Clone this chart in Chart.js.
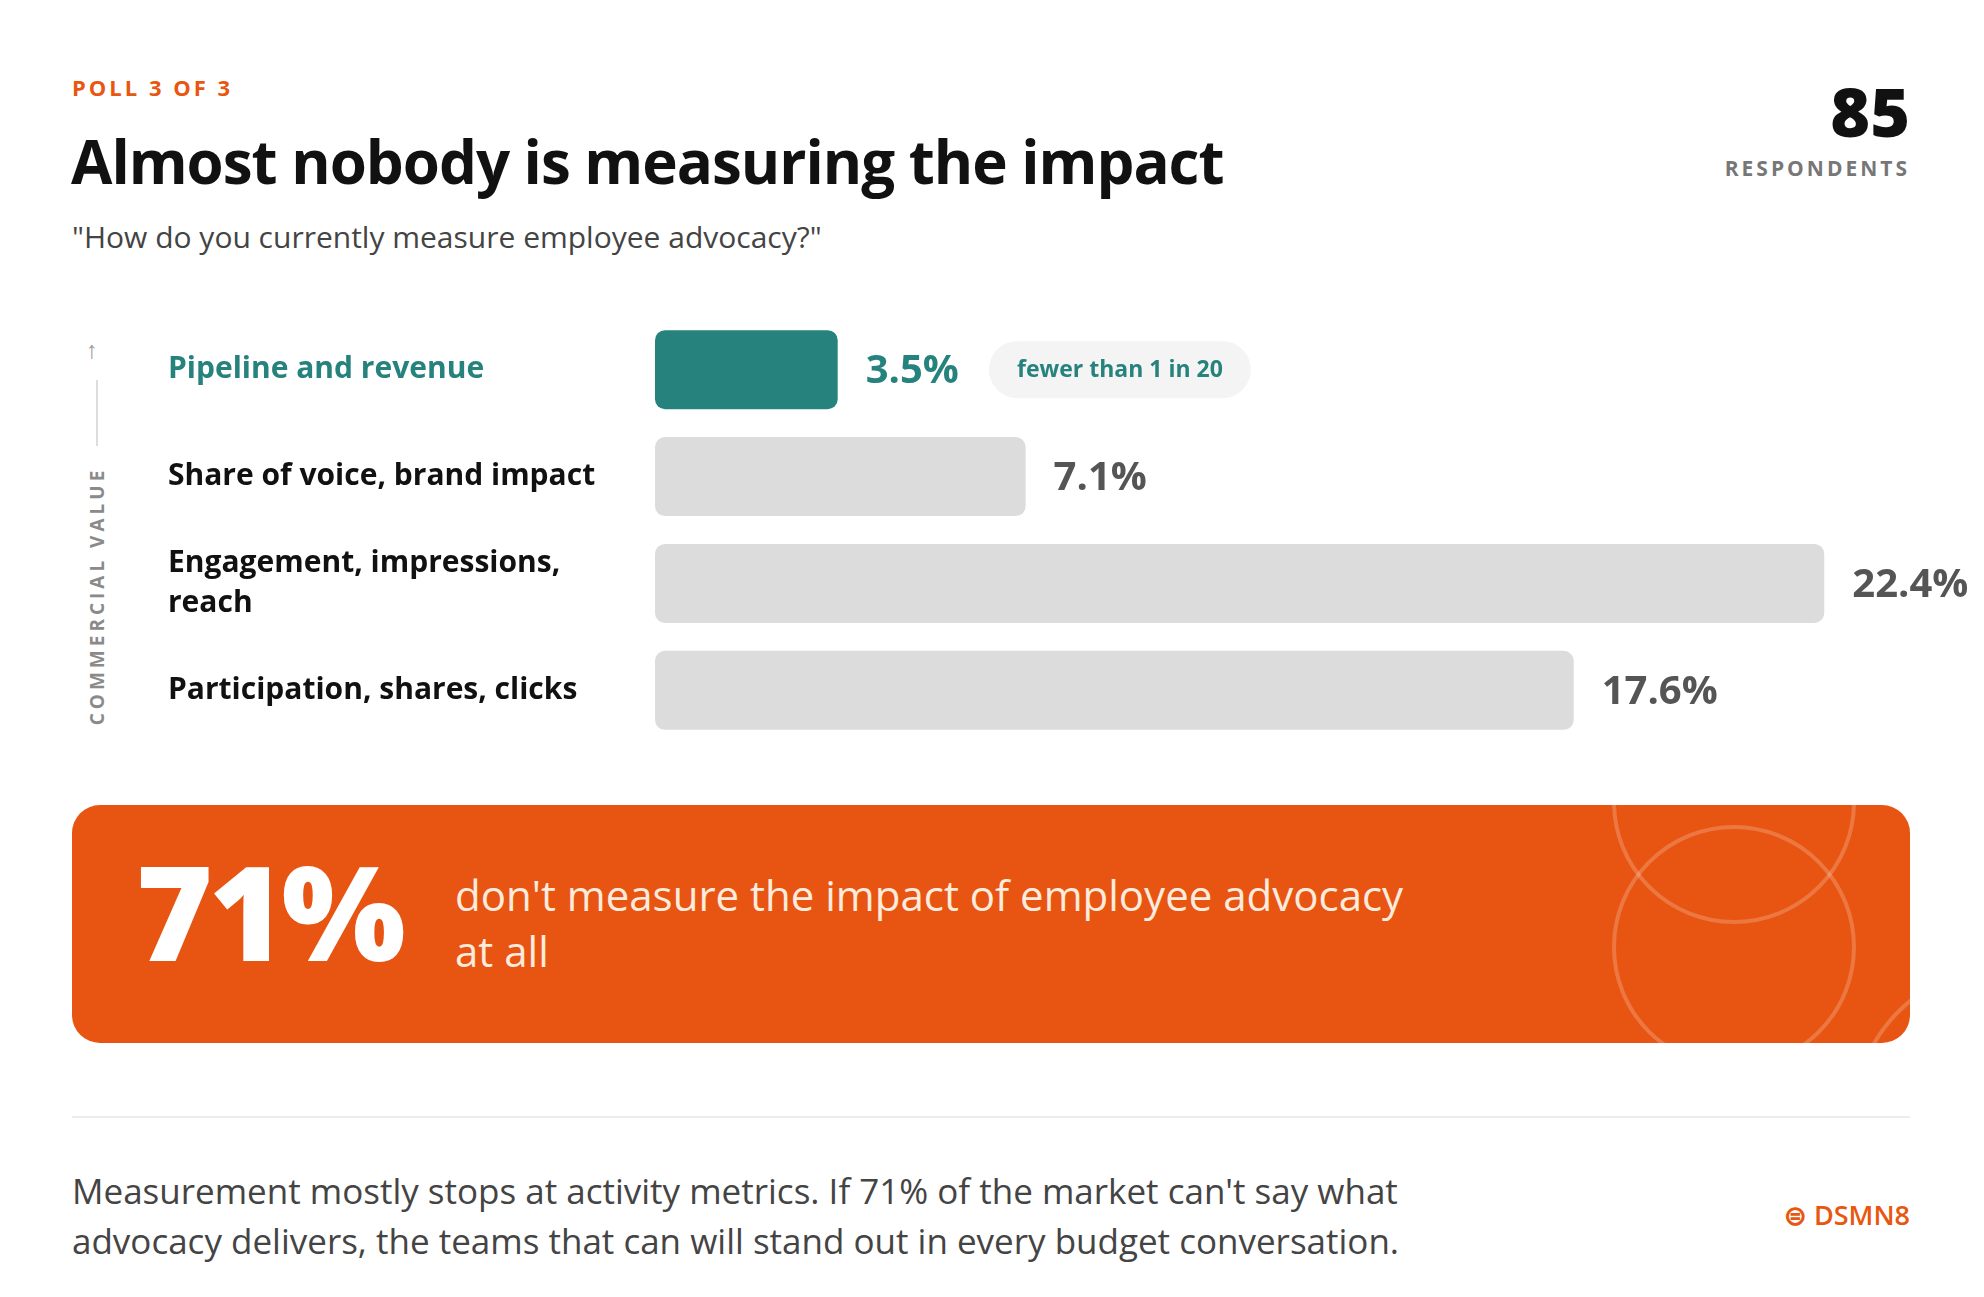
<!DOCTYPE html>
<html>
<head>
<meta charset="utf-8">
<script src="https://cdn.jsdelivr.net/npm/chart.js"></script>
<style>
  body { margin:0; width:1984px; height:1297px; background:#fff; font-family:"Open Sans", sans-serif; position:relative; overflow:hidden; }
  .abs { position:absolute; white-space:nowrap; }
  #poll { left:72px; top:72px; font-size:22px; font-weight:700; color:#E8560F; letter-spacing:3px; }
  #title { left:71px; top:120px; font-size:60px; font-weight:700; color:#111; letter-spacing:-1px; }
  #sub { left:72px; top:216px; font-size:30px; color:#444; }
  #num { right:74px; top:64px; font-size:68px; font-weight:800; color:#111; }
  #resp { right:74px; top:154px; font-size:21px; font-weight:700; color:#777; letter-spacing:3px; }
  #axis { left:97px; top:596px; transform:translate(-50%,-50%) rotate(-90deg); font-size:19px; font-weight:700; color:#8a8a8a; letter-spacing:4px; }
  #arrow { left:86px; top:332px; font-size:24px; color:#999; }
  #vline { left:96px; top:380px; width:2px; height:66px; background:#ddd; }
  #chartWrap { left:168px; top:296px; width:1816px; height:468px; }
  #box { left:72px; top:805px; width:1838px; height:238px; background:#E85512; border-radius:28px; overflow:hidden; }
  #big { left:64px; top:40px; font-size:131px; font-weight:800; color:#fff; letter-spacing:-4px; line-height:1; }
  #boxtxt { left:383px; top:62px; font-size:42px; font-weight:500; color:#FDEBDD; line-height:56px; white-space:normal; width:950px; }
  .circ { position:absolute; border:4px solid rgba(255,255,255,0.2); border-radius:50%; width:236px; height:236px; }
  #rule { left:72px; top:1116px; width:1838px; height:2px; background:#ececec; }
  #foot { left:72px; top:1166px; font-size:35px; color:#444; line-height:50px; }
  #logo { right:74px; top:1196px; font-size:27px; font-weight:600; color:#E8560F; }
</style>
</head>
<body>
<div class="abs" id="poll">POLL 3 OF 3</div>
<div class="abs" id="title">Almost nobody is measuring the impact</div>
<div class="abs" id="sub">"How do you currently measure employee advocacy?"</div>
<div class="abs" id="num">85</div>
<div class="abs" id="resp">RESPONDENTS</div>
<div class="abs" id="arrow">↑</div>
<div class="abs" id="vline"></div>
<div class="abs" id="axis">COMMERCIAL VALUE</div>
<div class="abs" id="chartWrap"><canvas id="chart"></canvas></div>
<div class="abs" id="box">
  <div class="abs" id="big">71%</div>
  <div class="abs" id="boxtxt">don't measure the impact of employee advocacy at all</div>
  <div class="circ" style="left:1540px; top:-125px;"></div>
  <div class="circ" style="left:1540px; top:20px;"></div>
  <div class="circ" style="left:1780px; top:160px; width:300px; height:300px;"></div>
</div>
<div class="abs" id="rule"></div>
<div class="abs" id="foot">Measurement mostly stops at activity metrics. If 71% of the market can't say what<br>advocacy delivers, the teams that can will stand out in every budget conversation.</div>
<div class="abs" id="logo">⊜ DSMN8</div>
<script>
const categories = [["Pipeline and revenue"], ["Share of voice, brand impact"], ["Engagement, impressions,", "reach"], ["Participation, shares, clicks"]];
const values = [3.5, 7.1, 22.4, 17.6];
const valueLabels = ["3.5%", "7.1%", "22.4%", "17.6%"];
const badgeText = "fewer than 1 in 20";

const TEAL = "#26827D";

const labelPlugin = {
  id: "labels",
  afterDatasetsDraw(chart) {
    const ctx = chart.ctx;
    const meta = chart.getDatasetMeta(0);
    meta.data.forEach((bar, i) => {
      ctx.save();
      ctx.font = "700 40px 'Open Sans'";
      ctx.fillStyle = i === 0 ? TEAL : "#555";
      ctx.textBaseline = "middle";
      const x = bar.x + 28;
      ctx.fillText(valueLabels[i], x, bar.y + 2);
      if (i === 0) {
        const w = ctx.measureText(valueLabels[i]).width;
        const bx = x + w + 30, bw = 262, bh = 57;
        ctx.fillStyle = "#F4F4F4";
        ctx.beginPath();
        ctx.roundRect(bx, bar.y - bh / 2, bw, bh, bh / 2);
        ctx.fill();
        ctx.font = "700 23px 'Open Sans'";
        ctx.fillStyle = TEAL;
        ctx.textAlign = "center";
        ctx.fillText(badgeText, bx + bw / 2, bar.y + 1);
      }
      ctx.restore();
    });
  }
};

new Chart(document.getElementById("chart"), {
  type: "bar",
  data: {
    labels: categories,
    datasets: [{
      data: values,
      backgroundColor: values.map((v, i) => i === 0 ? TEAL : "#DCDCDC"),
      borderRadius: 10,
      borderSkipped: false,
      barPercentage: 0.74,
      categoryPercentage: 1
    }]
  },
  options: {
    indexAxis: "y",
    responsive: true,
    maintainAspectRatio: false,
    animation: false,
    layout: { padding: { right: 24 } },
    plugins: { legend: { display: false }, tooltip: { enabled: false } },
    scales: {
      x: { min: 0, max: 25, display: false },
      y: {
        grid: { display: false },
        border: { display: false },
        afterFit(axis) { axis.width = 487; },
        ticks: {
          crossAlign: "far",
          padding: 0,
          font: { family: "'Open Sans'", size: 30, weight: "700", lineHeight: 1.35 },
          color: (c) => c.index === 0 ? TEAL : "#111"
        }
      }
    }
  },
  plugins: [labelPlugin]
});
</script>
</body>
</html>
